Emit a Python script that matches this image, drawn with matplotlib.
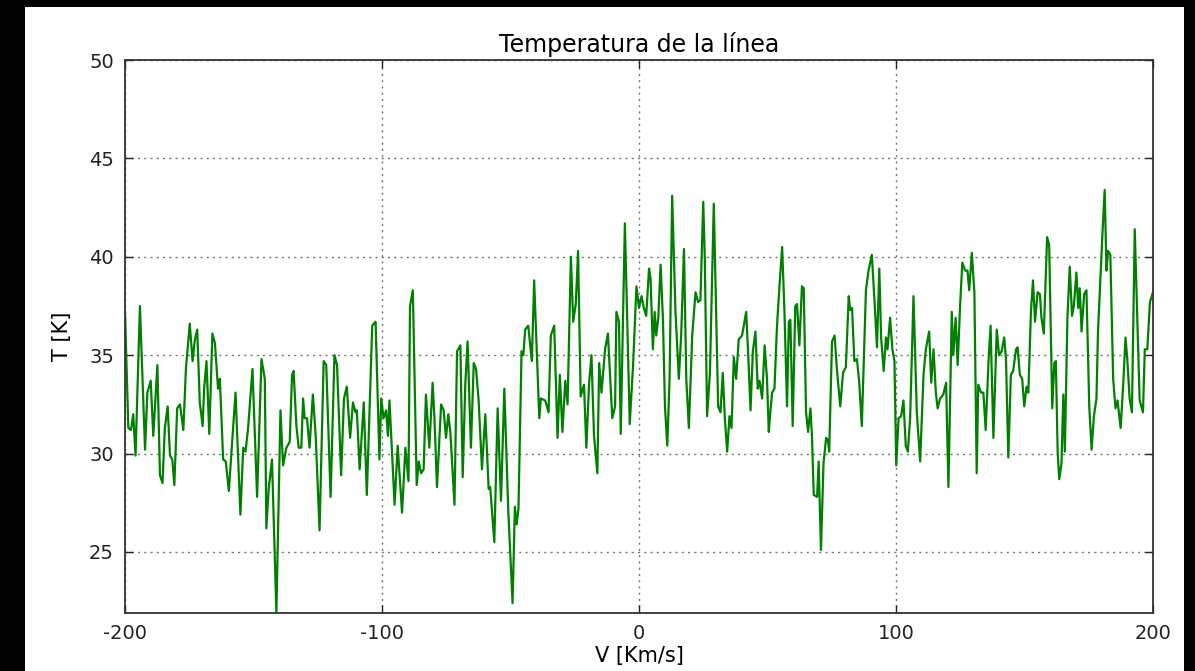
import matplotlib
matplotlib.use("Agg")
import matplotlib.pyplot as plt
from matplotlib.patches import Rectangle

plt.rcParams['axes.unicode_minus'] = False

# velocidades negativas (km/s) y temperatura (K)
v_neg = [-200.0, -198.7, -197.7, -196.8, -195.9, -194.2, -192.2, -191.3, -190.0, -189.0,
         -187.4, -186.4, -185.4, -184.5, -183.4, -182.5, -181.6, -180.8, -179.7, -178.6,
         -177.3, -176.3, -174.8, -173.7, -172.8, -171.9, -170.9, -169.8, -169.2, -168.3,
         -167.2, -166.0, -165.0, -163.8, -163.1, -161.8, -160.8, -159.6, -157.0, -155.1,
         -154.0, -153.1, -152.1, -150.4,
         -148.6, -146.9, -145.6, -145.0, -144.1, -142.8, -141.1, -139.5, -138.5, -137.2,
         -135.9, -135.0, -134.4, -133.3, -132.4, -131.4, -130.7, -130.1, -129.2, -128.2,
         -126.9, -125.8, -124.3, -122.7, -121.7, -120.0, -118.5, -117.5, -115.9, -114.8,
         -113.7, -112.4, -111.3, -110.3, -109.8, -108.7, -107.1, -105.9, -104.9, -103.8,
         -102.5, -101.0,
         -100.3, -99.4, -98.4, -97.7, -97.1, -95.1, -93.9, -92.2, -90.9, -89.7,
         -89.1, -88.0, -86.5, -85.7, -84.8, -83.8, -82.9, -81.6, -80.3, -79.6,
         -78.6, -77.0, -76.0, -75.1, -74.2, -73.4, -71.8, -70.8, -69.5, -68.6,
         -67.6, -66.7, -65.4, -64.3, -63.4, -62.4, -61.1, -59.8, -58.5, -57.9,
         -56.3, -55.0, -53.7, -52.4, -50.9,
         -49.2, -48.3, -47.6, -46.9, -45.7, -45.0, -44.3, -43.1, -41.7, -40.8,
         -38.8, -38.2, -36.5, -35.2, -34.3, -33.0, -31.7, -30.8, -29.8, -28.7,
         -27.8, -26.5, -25.6, -24.6, -23.7, -22.7, -21.4, -20.5, -19.4, -18.5,
         -17.5, -16.2, -15.5, -14.6, -13.2, -12.1, -10.4, -9.3, -8.8, -7.8,
         -7.1, -5.5, -3.6, -2.3, -1.0]
t_neg = [37.2, 31.3, 31.2, 32.0, 29.9, 37.5, 30.2, 33.1, 33.7, 30.9,
         34.5, 28.9, 28.5, 31.3, 32.4, 29.9, 29.7, 28.4, 32.3, 32.5,
         31.2, 34.3, 36.6, 34.7, 35.8, 36.3, 32.6, 31.4, 33.3, 34.7,
         31.0, 36.1, 35.6, 33.3, 33.8, 29.7, 29.6, 28.1, 33.1, 26.9,
         30.3, 30.1, 31.3, 34.3,
         27.8, 34.8, 33.8, 26.2, 28.2, 29.7, 21.9, 32.2, 29.4, 30.3,
         30.6, 34.0, 34.2, 31.4, 30.3, 30.3, 32.8, 31.8, 31.8, 30.3,
         33.0, 30.9, 26.1, 34.7, 34.5, 27.8, 35.0, 34.5, 28.9, 32.8,
         33.4, 30.8, 32.6, 32.1, 32.2, 29.2, 32.6, 27.9, 32.0, 36.5,
         36.7, 29.7,
         32.8, 31.8, 32.2, 30.9, 32.7, 27.4, 30.4, 27.0, 30.3, 28.6,
         37.5, 38.3, 28.4, 29.6, 29.0, 29.2, 33.0, 30.3, 33.6, 31.8,
         28.3, 32.5, 32.2, 30.8, 32.0, 31.1, 27.4, 35.2, 35.5, 28.8,
         33.5, 35.7, 30.3, 34.6, 34.3, 32.7, 29.2, 32.0, 28.2, 28.3,
         25.5, 32.3, 27.6, 33.3, 27.2,
         22.4, 27.3, 26.4, 27.2, 35.2, 35.0, 36.3, 36.5, 34.7, 38.8,
         31.8, 32.8, 32.7, 32.1, 36.0, 36.5, 30.8, 34.0, 31.1, 33.7,
         32.5, 40.0, 36.7, 37.6, 40.3, 32.9, 33.5, 30.3, 33.6, 35.0,
         30.9, 29.0, 34.6, 33.1, 35.3, 36.1, 31.8, 32.4, 37.2, 36.7,
         31.0, 41.7, 31.5, 34.5, 38.5]

# velocidades positivas
v_pos = [0.0, 1.0, 1.9, 2.8, 3.9, 4.5, 5.4, 6.1, 6.7, 7.5,
         8.4, 9.3, 10.1, 11.0, 11.9, 12.9, 14.2, 15.5, 16.4, 17.5,
         18.4, 19.4, 20.7, 22.0, 23.0, 23.9, 25.0, 25.6, 26.5, 27.6,
         29.1, 30.8, 31.7, 32.6, 33.4, 34.3, 35.2, 36.0, 36.9, 37.8,
         38.8, 40.1, 41.7, 42.5, 43.4, 44.3, 45.3, 46.2, 46.9, 47.9,
         48.9, 49.8,
         50.5, 51.1, 51.8, 52.7, 53.7, 54.6, 55.7, 56.6, 57.6, 58.3,
         58.9, 59.8, 60.8, 61.5, 62.4, 63.4, 64.1, 65.0, 65.8, 66.7,
         67.3, 68.0, 69.3, 69.9, 70.8, 71.8, 72.8, 73.5, 74.0, 75.1,
         76.1, 77.0, 78.3, 79.4, 80.5, 81.6, 82.2, 82.9, 83.8, 84.8,
         85.7, 86.7, 88.3, 89.3, 90.6, 91.7, 92.6, 93.5, 94.2, 95.2,
         96.1, 96.7, 97.7, 98.6, 99.4, 100.1,
         101.0, 102.0, 102.9, 103.8, 104.6, 105.5, 106.8, 108.1, 109.4, 110.7,
         111.6, 112.9, 113.7, 114.6, 115.5, 116.2, 117.2, 118.4, 119.5, 120.4,
         121.7, 122.3, 123.2, 124.0, 124.9, 125.8, 126.9, 127.8, 128.5, 129.5,
         130.5, 131.4, 132.0, 133.1, 134.0, 134.9, 136.0, 136.8, 137.9, 139.2,
         140.1, 141.1, 142.1, 142.8, 143.7, 144.7, 145.6, 146.7, 147.3, 148.2,
         149.1, 149.9, 150.8,
         151.5, 152.5, 153.3, 154.1, 155.1, 156.0, 156.6, 157.5, 158.8, 159.6,
         160.8, 161.6, 162.2, 162.9, 163.5, 164.4, 165.1, 165.7, 166.7, 167.6,
         168.5, 169.2, 170.2, 170.9, 171.5, 172.2, 173.2, 174.1, 175.2, 176.1,
         177.0, 178.0, 178.6, 179.7, 180.3, 181.2, 181.9, 182.5, 183.4, 184.5,
         185.4, 186.2, 187.4, 188.4, 189.3, 190.0, 190.9, 191.8, 192.9, 193.9,
         194.8, 196.1, 196.8, 197.8, 198.8, 200.0]
t_pos = [37.4, 38.0, 37.4, 37.0, 39.4, 38.9, 35.3, 37.2, 36.0, 36.9,
         39.6, 36.9, 32.4, 30.4, 33.8, 43.1, 37.2, 33.8, 36.0, 40.4,
         33.8, 31.3, 36.0, 38.2, 37.7, 37.8, 42.8, 39.9, 31.9, 34.1,
         42.7, 32.4, 32.1, 34.1, 31.8, 30.1, 31.9, 31.3, 34.9, 33.8,
         35.8, 36.0, 37.2, 35.0, 32.2, 35.2, 36.2, 33.3, 33.7, 32.8,
         35.5, 33.8,
         31.1, 32.1, 33.1, 33.3, 36.5, 38.4, 40.5, 37.2, 32.4, 36.7,
         36.8, 31.4, 37.5, 37.6, 35.5, 38.5, 38.4, 32.1, 31.1, 32.3,
         30.9, 27.9, 27.8, 29.6, 25.1, 29.5, 30.8, 30.7, 30.1, 35.7,
         36.0, 34.3, 32.4, 34.1, 34.4, 38.0, 37.3, 37.4, 34.7, 34.8,
         33.6, 31.4, 38.3, 39.3, 40.1, 37.6, 35.4, 39.4, 35.9, 34.2,
         35.9, 35.3, 36.9, 35.3, 34.7, 29.4,
         31.8, 31.9, 32.7, 30.4, 30.1, 31.8, 38.0, 32.1, 29.6, 34.0,
         35.3, 36.2, 33.6, 35.3, 33.1, 32.3, 32.8, 33.0, 33.6, 28.3,
         37.2, 35.0, 36.9, 34.5, 37.4, 39.7, 39.3, 39.3, 38.3, 40.2,
         38.2, 29.0, 33.5, 33.1, 33.1, 31.2, 34.7, 36.5, 30.8, 36.3,
         35.0, 35.2, 35.9, 34.8, 29.8, 34.0, 34.2, 35.3, 35.4, 34.0,
         33.8, 32.4, 33.4,
         33.1, 37.2, 38.8, 36.7, 38.2, 38.1, 36.9, 36.1, 41.0, 40.6,
         32.3, 34.6, 34.7, 30.1, 28.7, 29.5, 33.0, 30.1, 36.9, 39.5,
         37.0, 37.5, 39.2, 37.4, 38.4, 36.2, 38.1, 38.3, 32.4, 30.2,
         31.9, 32.8, 36.2, 39.3, 41.1, 43.4, 39.3, 40.3, 40.1, 33.8,
         32.3, 32.7, 31.3, 33.5, 35.9, 34.8, 32.8, 32.1, 41.4, 36.9,
         32.7, 32.1, 35.3, 35.3, 37.7, 38.2]

x_ticks = [-200, -100, 0, 100, 200]
y_ticks = [25, 30, 35, 40, 45, 50]

v = v_neg + v_pos
t = t_neg + t_pos

W, H = 1195, 671
fig = plt.figure(figsize=(W / 100, H / 100), dpi=100, facecolor='black')
# zona blanca (el resto es borde negro)
fig.add_artist(Rectangle((25 / W, 0), (1184 - 25) / W, 1 - 7 / H,
                         transform=fig.transFigure, facecolor='white',
                         edgecolor='none', zorder=-1))

ax = fig.add_axes([125 / W, 1 - 613 / H, (1153 - 125) / W, (613 - 60) / H])
ax.plot(v, t, color='green', lw=1.6)
ax.set_xlim(-200, 200)
ax.set_ylim(21.9, 50)
ax.set_xticks(x_ticks)
ax.set_yticks(y_ticks)
ax.grid(True, linestyle=(0, (1.5, 3)), color='#777777', lw=1.0)
ax.tick_params(direction='in', top=True, right=True, length=6, width=1,
               labelsize=14, pad=8, colors='#222222')
for s in ax.spines.values():
    s.set_linewidth(1.3)
    s.set_color('#333333')

ax.set_title('Temperatura de la línea', fontsize=17, pad=6)
ax.set_xlabel('V [Km/s]', fontsize=15, labelpad=2)
ax.set_ylabel('T [K]', fontsize=15, labelpad=12)

fig.savefig('out.png', dpi=100, facecolor='black')
